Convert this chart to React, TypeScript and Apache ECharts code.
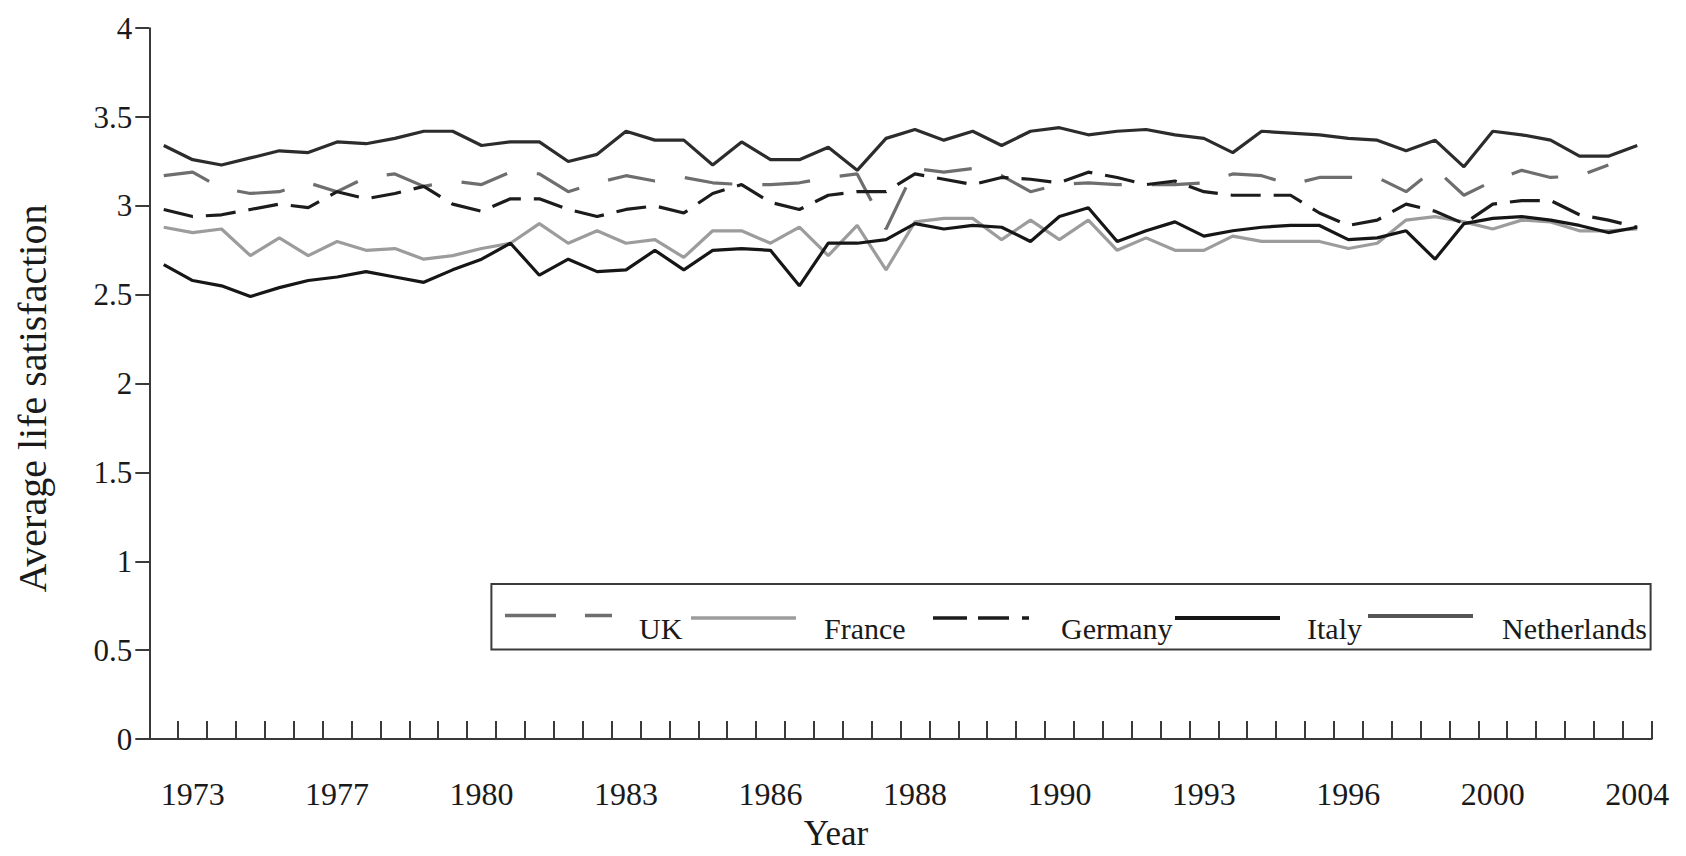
import React, { useEffect, useRef } from "react";
import * as echarts from "echarts";

const pointCount = 52;
const tickYears = ["1973", "1977", "1980", "1983", "1986", "1988", "1990", "1993", "1996", "2000", "2004"];
const firstLabelIndex = 1;
const labelStep = 5;

const categories: string[] = Array.from({ length: pointCount }, (_, i) =>
  (i - firstLabelIndex) % labelStep === 0 ? tickYears[(i - firstLabelIndex) / labelStep] : ""
);

const ukValues = [
  3.17, 3.19, 3.1, 3.07, 3.08, 3.13, 3.08, 3.16, 3.18, 3.11,
  3.14, 3.12, 3.19, 3.18, 3.08, 3.13, 3.17, 3.14, 3.16, 3.13,
  3.12, 3.12, 3.13, 3.16, 3.18, 2.87, 3.21, 3.19, 3.21, 3.17,
  3.08, 3.12, 3.13, 3.12, 3.12, 3.12, 3.13, 3.18, 3.17, 3.12,
  3.16, 3.16, 3.16, 3.08, 3.21, 3.06, 3.14, 3.2, 3.16, 3.17,
  3.23, null,
];
const franceValues = [
  2.88, 2.85, 2.87, 2.72, 2.82, 2.72, 2.8, 2.75, 2.76, 2.7,
  2.72, 2.76, 2.79, 2.9, 2.79, 2.86, 2.79, 2.81, 2.71, 2.86,
  2.86, 2.79, 2.88, 2.72, 2.89, 2.64, 2.91, 2.93, 2.93, 2.81,
  2.92, 2.81, 2.92, 2.75, 2.82, 2.75, 2.75, 2.83, 2.8, 2.8,
  2.8, 2.76, 2.79, 2.92, 2.94, 2.91, 2.87, 2.92, 2.91, 2.86,
  2.86, 2.87,
];
const germanyValues = [
  2.98, 2.94, 2.95, 2.98, 3.01, 2.99, 3.08, 3.04, 3.07, 3.11,
  3.01, 2.97, 3.04, 3.04, 2.98, 2.94, 2.98, 3.0, 2.96, 3.07,
  3.12, 3.02, 2.98, 3.06, 3.08, 3.08, 3.18, 3.15, 3.12, 3.16,
  3.15, 3.13, 3.19, 3.16, 3.12, 3.14, 3.08, 3.06, 3.06, 3.06,
  2.96, 2.89, 2.92, 3.01, 2.97, 2.9, 3.01, 3.03, 3.03, 2.95,
  2.92, 2.88,
];
const italyValues = [
  2.67, 2.58, 2.55, 2.49, 2.54, 2.58, 2.6, 2.63, 2.6, 2.57,
  2.64, 2.7, 2.79, 2.61, 2.7, 2.63, 2.64, 2.75, 2.64, 2.75,
  2.76, 2.75, 2.55, 2.79, 2.79, 2.81, 2.9, 2.87, 2.89, 2.88,
  2.8, 2.94, 2.99, 2.8, 2.86, 2.91, 2.83, 2.86, 2.88, 2.89,
  2.89, 2.81, 2.82, 2.86, 2.7, 2.9, 2.93, 2.94, 2.92, 2.89,
  2.85, 2.88,
];
const netherlandsValues = [
  3.34, 3.26, 3.23, 3.27, 3.31, 3.3, 3.36, 3.35, 3.38, 3.42,
  3.42, 3.34, 3.36, 3.36, 3.25, 3.29, 3.42, 3.37, 3.37, 3.23,
  3.36, 3.26, 3.26, 3.33, 3.2, 3.38, 3.43, 3.37, 3.42, 3.34,
  3.42, 3.44, 3.4, 3.42, 3.43, 3.4, 3.38, 3.3, 3.42, 3.41,
  3.4, 3.38, 3.37, 3.31, 3.37, 3.22, 3.42, 3.4, 3.37, 3.28,
  3.28, 3.34,
];

const seriesNames = ["UK", "France", "Germany", "Italy", "Netherlands"];
const FONT = "'Liberation Serif', 'Times New Roman', serif";
const AXIS_COLOR = "#3a3a3a";
const TEXT_COLOR = "#1a1a1a";

export default function App() {
  const ref = useRef<HTMLDivElement>(null);

  useEffect(() => {
    if (!ref.current) return;
    const chart = echarts.init(ref.current, undefined, { renderer: "svg" });

    const mk = (name: string, data: (number | null)[], color: string, type: any, width = 3.2) => ({
      name,
      type: "line",
      data,
      symbol: "none",
      showSymbol: false,
      connectNulls: false,
      lineStyle: { color, width, type },
      itemStyle: { color },
      emphasis: { disabled: true },
    });

    // Legend drawn as graphic elements (sample line above-left of its label, Excel style)
    const legendEntries = [
      { name: seriesNames[0], x1: 505, x2: 612, y: 615.5, color: "#6e6e6e", width: 3.5, dash: [51, 29], tx: 639 },
      { name: seriesNames[1], x1: 691, x2: 796, y: 618, color: "#9c9c9c", width: 3.5, dash: null, tx: 824 },
      { name: seriesNames[2], x1: 933, x2: 1029, y: 618, color: "#1c1c1c", width: 3.5, dash: [34, 11, 31, 13, 7, 30], tx: 1061 },
      { name: seriesNames[3], x1: 1175, x2: 1280, y: 618, color: "#161616", width: 4, dash: null, tx: 1307 },
      { name: seriesNames[4], x1: 1368, x2: 1473, y: 616, color: "#555555", width: 4, dash: null, tx: 1502 },
    ];
    const legendGraphics: any[] = [
      {
        type: "rect",
        shape: { x: 491.4, y: 583.9, width: 1159.2, height: 65.6 },
        style: { fill: "#ffffff", stroke: AXIS_COLOR, lineWidth: 2 },
        z: 10,
      },
    ];
    legendEntries.forEach((e) => {
      legendGraphics.push({
        type: "line",
        shape: { x1: e.x1, y1: e.y, x2: e.x2, y2: e.y },
        style: { stroke: e.color, lineWidth: e.width, lineDash: e.dash || undefined },
        z: 11,
      });
      legendGraphics.push({
        type: "text",
        x: e.tx,
        y: 628,
        style: { text: e.name, fontSize: 30, fontFamily: FONT, fill: TEXT_COLOR, align: "left", verticalAlign: "middle" },
        z: 11,
      });
    });

    const option: any = {
      animation: false,
      backgroundColor: "#ffffff",
      textStyle: { fontFamily: FONT },
      grid: { left: 149.3, right: 34.3, top: 28.2, bottom: 107.8, containLabel: false },
      xAxis: {
        type: "category",
        data: categories,
        boundaryGap: true,
        axisLine: { show: true, lineStyle: { color: AXIS_COLOR, width: 2 } },
        axisTick: { show: true, interval: 0, inside: true, length: 18, alignWithLabel: false, lineStyle: { color: AXIS_COLOR, width: 2 } },
        axisLabel: { interval: 0, margin: 39, fontSize: 32, color: TEXT_COLOR, fontFamily: FONT },
        splitLine: { show: false },
        name: "Year",
        nameLocation: "middle",
        nameGap: 77,
        nameTextStyle: { fontSize: 35, color: TEXT_COLOR, fontFamily: FONT, padding: [0, 129, 0, 0] },
      },
      yAxis: {
        type: "value",
        min: 0,
        max: 4,
        interval: 0.5,
        axisLine: { show: true, lineStyle: { color: AXIS_COLOR, width: 2 } },
        axisTick: { show: true, length: 14, lineStyle: { color: AXIS_COLOR, width: 2 } },
        splitLine: { show: false },
        axisLabel: { fontSize: 31, margin: 17, color: TEXT_COLOR, fontFamily: FONT },
        name: "Average life satisfaction",
        nameLocation: "middle",
        nameGap: 97,
        nameRotate: 90,
        nameTextStyle: { fontSize: 40, color: TEXT_COLOR, fontFamily: FONT, padding: [0, 30, 0, 0] },
      },
      legend: { show: false, data: seriesNames },
      graphic: legendGraphics,
      series: [
        mk(seriesNames[0], ukValues, "#6e6e6e", [48, 30]),
        mk(seriesNames[1], franceValues, "#9c9c9c", "solid"),
        mk(seriesNames[2], germanyValues, "#1c1c1c", [30, 13]),
        mk(seriesNames[3], italyValues, "#161616", "solid"),
        mk(seriesNames[4], netherlandsValues, "#2c2c2c", "solid"),
      ],
    };

    chart.setOption(option);
    return () => chart.dispose();
  }, []);

  return (
    <div
      ref={ref}
      style={{ position: "fixed", left: 0, top: 0, width: "1686px", height: "856px", background: "#fff" }}
    />
  );
}
